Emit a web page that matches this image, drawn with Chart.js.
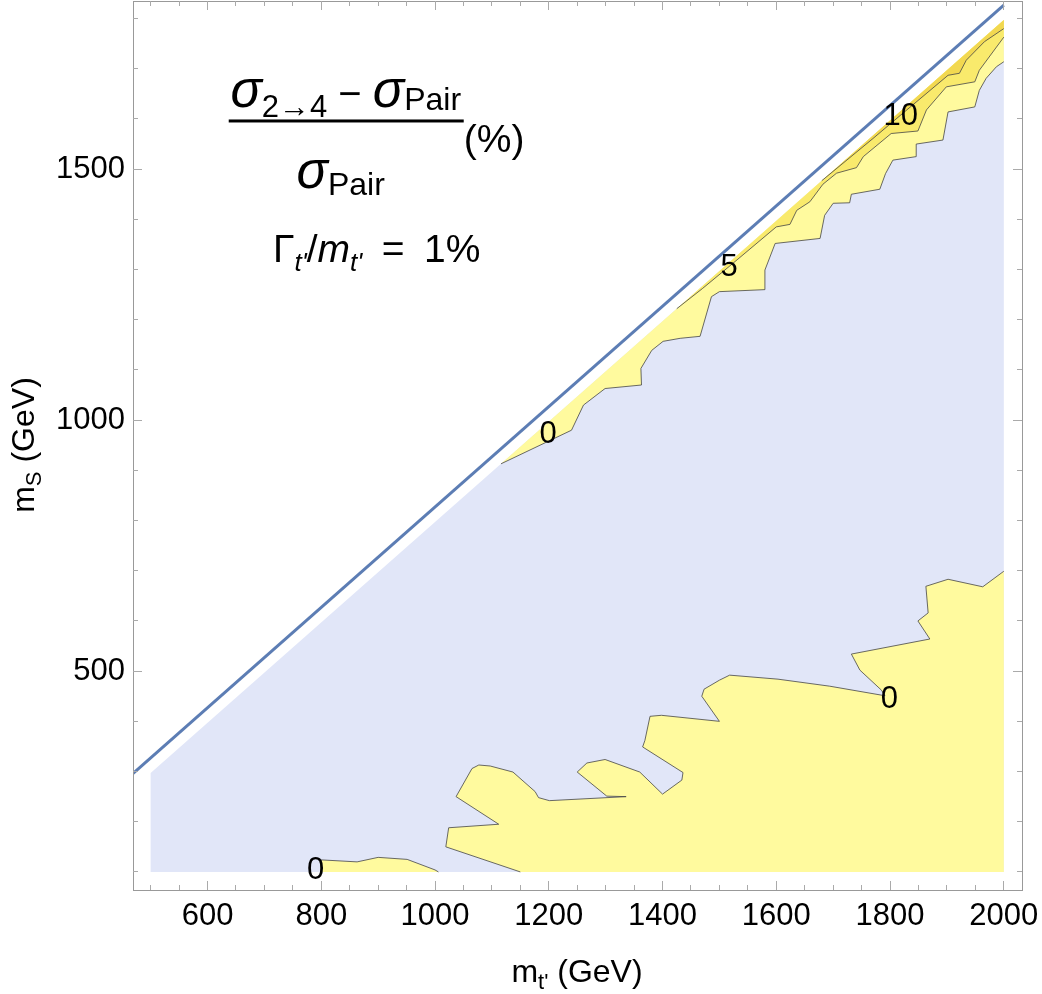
<!DOCTYPE html>
<html>
<head>
<meta charset="utf-8">
<script src="https://cdn.jsdelivr.net/npm/chart.js@4.4.0/dist/chart.umd.min.js"></script>
<style>
  html, body { margin: 0; padding: 0; background: #fff; }
  #wrap { width: 1042px; height: 994px; }
</style>
</head>
<body>
<div id="wrap"><canvas id="chart1" width="1042" height="994"></canvas></div>
<script>
// plot range (GeV)
const xRange = [469, 2032];
const yRange = [64, 1835];
const xMajorTicks = [600, 800, 1000, 1200, 1400, 1600, 1800, 2000];
const yMajorTicks = [500, 1000, 1500];
const xMinorTicks = [];
for (let v = 500; v <= 2000; v += 50) xMinorTicks.push(v);
const yMinorTicks = [];
for (let v = 100; v <= 1800; v += 100) yMinorTicks.push(v);

// m_S = m_t' - m_t
const kinLine = [[450, 277], [2000, 1827]];
// scanned grid
const domain = [[500, 100], [2000, 100], [2000, 1797], [500, 297]];

// 0 % contours
const zeroLowLeft = [[800, 100], [800, 124], [863, 120], [900, 129], [951, 125], [1000, 104], [1006, 100]];
const zeroLow = [[1150, 100], [1019, 150], [1024, 188], [1112, 195], [1037, 250], [1065, 306], [1077, 313],
  [1097, 311], [1137, 299], [1176, 260], [1182, 248], [1201, 242], [1336, 250], [1302, 251], [1250, 299],
  [1267, 317], [1299, 324], [1360, 299], [1400, 255], [1434, 283], [1436, 298], [1365, 349], [1369, 362],
  [1378, 410], [1398, 412], [1500, 400], [1469, 450], [1473, 464], [1500, 482], [1518, 492], [1603, 484],
  [1694, 470], [1791, 451], [1785, 462], [1747, 502], [1732, 534], [1870, 564], [1849, 600], [1867, 616],
  [1863, 669], [1902, 683], [1963, 668], [2000, 699]];
const zeroDiag = [[1116, 913], [1240, 980], [1261, 1030], [1299, 1063], [1363, 1070], [1362, 1103], [1381, 1139],
  [1401, 1157], [1431, 1163], [1466, 1167], [1486, 1246], [1500, 1256], [1580, 1260], [1580, 1299], [1598, 1352],
  [1677, 1362], [1685, 1408], [1700, 1432], [1729, 1433], [1732, 1450], [1782, 1460], [1792, 1491], [1805, 1518],
  [1846, 1525], [1846, 1550], [1893, 1558], [1902, 1614], [1949, 1624], [1957, 1657], [1969, 1681], [1987, 1704],
  [2000, 1714]];
// 5 % and 10 % contours
const fiveDiag = [[1425, 1222], [1470, 1262], [1517, 1306], [1600, 1385], [1624, 1390], [1636, 1418], [1659, 1435],
  [1682, 1470], [1706, 1492], [1741, 1503], [1753, 1525], [1802, 1571], [1849, 1576], [1864, 1618], [1899, 1664],
  [1949, 1674], [1957, 1697], [2000, 1763]];
const tenDiag = [[1680, 1477], [1770, 1561], [1819, 1608], [1902, 1687], [1922, 1691], [1934, 1717], [1966, 1754],
  [2000, 1780]];

const labelText = ['0', '0', '0', '5', '10'];
const labelX = [790, 1799, 1199, 1517, 1819];
const labelY = [104, 446, 974, 1307, 1606];

const lavender = '#E1E6F8';
const yellow0 = '#FFFA9E';
const yellow5 = '#F9EA6C';
const yellow10 = '#F2D850';
const lineGray = 'rgba(70,70,70,0.8)';
const frameGray = '#999999';
const tickGray = '#aaaaaa';
const fam = '"Liberation Sans", Arial, sans-serif';

function pts(arr) { return arr.map(p => ({ x: p[0], y: p[1] })); }

// contour region: contour line + closing corner(s) that get no border
function region(contour, closing, color, order) {
  const n = contour.length;
  return {
    data: pts(contour.concat(closing)),
    areaColor: color,
    showLine: true,
    borderWidth: 1,
    borderColor: lineGray,
    pointRadius: 0,
    order: order,
    segment: { borderColor: c => (c.p0DataIndex >= n - 1 ? 'rgba(0,0,0,0)' : lineGray) }
  };
}

const datasets = [
  { data: pts(kinLine), showLine: true, borderColor: '#5C7DB4', borderWidth: 3, pointRadius: 0, order: 0 },
  region(tenDiag, [[2000, 1797]], yellow10, 1),
  region(fiveDiag, [[2000, 1797]], yellow5, 2),
  region(zeroDiag, [[2000, 1797]], yellow0, 3),
  region(zeroLow, [[2000, 100]], yellow0, 4),
  region(zeroLowLeft, [], yellow0, 5),
  { data: pts(domain), areaColor: lavender, showLine: false, pointRadius: 0, order: 9 }
];

const polyFill = {
  id: 'polyFill',
  beforeDatasetDraw(chart, args) {
    const ds = chart.data.datasets[args.index];
    if (!ds.areaColor) return;
    const a = chart.chartArea;
    const ctx = chart.ctx;
    ctx.save();
    ctx.beginPath();
    ctx.rect(a.left, a.top, a.right - a.left, a.bottom - a.top);
    ctx.clip();
    ctx.beginPath();
    args.meta.data.forEach((p, i) => (i ? ctx.lineTo(p.x, p.y) : ctx.moveTo(p.x, p.y)));
    ctx.closePath();
    ctx.fillStyle = ds.areaColor;
    ctx.fill();
    ctx.restore();
  }
};

function drawRuns(ctx, runs, x, y, align) {
  let w = 0;
  runs.forEach(r => { ctx.font = r[1]; w += ctx.measureText(r[0]).width; });
  let cx = align === 'center' ? x - w / 2 : x;
  runs.forEach(r => {
    ctx.font = r[1];
    ctx.fillText(r[0], cx, y + (r[2] || 0));
    cx += ctx.measureText(r[0]).width;
  });
  return w;
}

const texts = {
  id: 'texts',
  afterDraw(chart) {
    const ctx = chart.ctx;
    const xs = chart.scales.x, ys = chart.scales.y;
    const F = s => s + 'px ' + fam;
    const I = s => 'italic ' + s + 'px ' + fam;
    ctx.save();
    ctx.fillStyle = '#000';

    // contour labels
    ctx.textAlign = 'center';
    ctx.textBaseline = 'middle';
    ctx.font = F(31);
    labelText.forEach((t, i) => ctx.fillText(t, xs.getPixelForValue(labelX[i]), ys.getPixelForValue(labelY[i]) + 1));
    ctx.textAlign = 'left';
    ctx.textBaseline = 'alphabetic';

    // axis titles
    drawRuns(ctx, [['m', F(32)], ["t'", F(22), 7], [' (GeV)', F(32)]], 577, 982, 'center');
    ctx.save();
    ctx.translate(34, 445);
    ctx.rotate(-Math.PI / 2);
    drawRuns(ctx, [['m', F(32)], ['S', F(22), 7], [' (GeV)', F(32)]], 0, 0, 'center');
    ctx.restore();

    // formula
    const cx = xs.getPixelForValue(843);
    const by = ys.getPixelForValue(1596);
    drawRuns(ctx, [['\u03C3', I(52)], ['2\u21924', F(31), 10], [' \u2212 ', F(40)], ['\u03C3', I(52)], ['Pair', F(32), 3]], cx, by - 14, 'center');
    ctx.fillRect(cx - 117, by - 1.5, 235, 3);
    drawRuns(ctx, [['(%)', F(39)]], cx + 118, by + 31, 'left');
    drawRuns(ctx, [['\u03C3', I(52)], ['Pair', F(32), 7]], cx - 5, by + 67, 'center');
    drawRuns(ctx, [['\u0393', F(39)], ["t'", I(26), 9], ['/', F(39)], ['m', I(39)], ["t'", I(26), 9], ['\u2002=\u20021%', F(39)]], cx + 31, by + 141, 'center');
    ctx.restore();
  }
};

const gridOpts = len => ({ drawOnChartArea: false, drawTicks: true, tickLength: len, tickColor: tickGray, tickWidth: 1, z: 1 });
const noLabels = { display: false };
const setTicks = arr => s => { s.ticks = arr.map(v => ({ value: v })); };
// fixed box size, no label overflow padding
const fixSize = (w, h) => s => {
  if (w !== null) s.width = w;
  if (h !== null) s.height = h;
  s.paddingLeft = s.paddingRight = s.paddingTop = s.paddingBottom = 0;
};

const ctx1 = document.getElementById('chart1').getContext('2d');
const chart1 = new Chart(ctx1, {
  type: 'scatter',
  data: { datasets: datasets },
  options: {
    responsive: false,
    animation: false,
    layout: { padding: { top: 1, right: 20, left: 0, bottom: 0 } },
    plugins: { legend: { display: false }, tooltip: { enabled: false } },
    scales: {
      x: {
        type: 'linear', axis: 'x', position: 'bottom', min: xRange[0], max: xRange[1], weight: 1,
        afterBuildTicks: setTicks(xMajorTicks),
        afterFit: fixSize(null, 104),
        grid: gridOpts(-9),
        border: { display: true, color: frameGray, width: 1, z: 1 },
        ticks: { color: '#000', font: { family: fam, size: 31 }, padding: 17, maxRotation: 0, autoSkip: false, callback: v => String(v) }
      },
      xMinor: {
        type: 'linear', axis: 'x', position: 'bottom', min: xRange[0], max: xRange[1], weight: 0,
        afterBuildTicks: setTicks(xMinorTicks),
        afterFit: fixSize(null, 0),
        grid: gridOpts(-5), border: { display: false }, ticks: noLabels
      },
      xTop: {
        type: 'linear', axis: 'x', position: 'top', min: xRange[0], max: xRange[1], weight: 1,
        afterBuildTicks: setTicks(xMajorTicks),
        afterFit: fixSize(null, 0),
        grid: gridOpts(-9), border: { display: true, color: frameGray, width: 1, z: 1 }, ticks: noLabels
      },
      xTopMinor: {
        type: 'linear', axis: 'x', position: 'top', min: xRange[0], max: xRange[1], weight: 0,
        afterBuildTicks: setTicks(xMinorTicks),
        afterFit: fixSize(null, 0),
        grid: gridOpts(-5), border: { display: false }, ticks: noLabels
      },
      y: {
        type: 'linear', axis: 'y', position: 'left', min: yRange[0], max: yRange[1], weight: 1,
        afterBuildTicks: setTicks(yMajorTicks),
        afterFit: fixSize(133, null),
        grid: gridOpts(-9),
        border: { display: true, color: frameGray, width: 1, z: 1 },
        ticks: { color: '#000', font: { family: fam, size: 31 }, padding: 17, callback: v => String(v) }
      },
      yMinor: {
        type: 'linear', axis: 'y', position: 'left', min: yRange[0], max: yRange[1], weight: 0,
        afterBuildTicks: setTicks(yMinorTicks),
        afterFit: fixSize(0, null),
        grid: gridOpts(-5), border: { display: false }, ticks: noLabels
      },
      yRight: {
        type: 'linear', axis: 'y', position: 'right', min: yRange[0], max: yRange[1], weight: 1,
        afterBuildTicks: setTicks(yMajorTicks),
        afterFit: fixSize(0, null),
        grid: gridOpts(-9), border: { display: true, color: frameGray, width: 1, z: 1 }, ticks: noLabels
      },
      yRightMinor: {
        type: 'linear', axis: 'y', position: 'right', min: yRange[0], max: yRange[1], weight: 0,
        afterBuildTicks: setTicks(yMinorTicks),
        afterFit: fixSize(0, null),
        grid: gridOpts(-5), border: { display: false }, ticks: noLabels
      }
    }
  },
  plugins: [polyFill, texts]
});
</script>
</body>
</html>
